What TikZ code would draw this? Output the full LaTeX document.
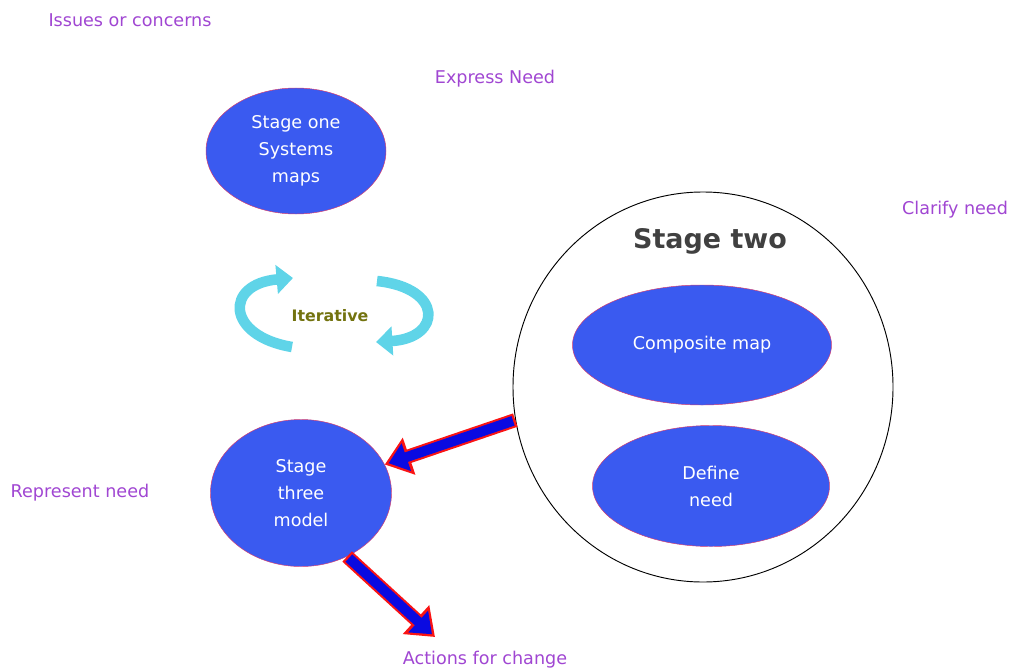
\documentclass[tikz,border=0pt]{standalone}
\usepackage{fontspec}
\setmainfont{DejaVu Sans}
\usetikzlibrary{shapes.geometric, arrows.meta, positioning}
\definecolor{stageblue}{RGB}{58,90,240}
\definecolor{edgepink}{RGB}{214,60,110}
\definecolor{notepurple}{RGB}{160,70,210}
\definecolor{iterolive}{RGB}{115,115,15}
\definecolor{loopcyan}{RGB}{95,212,232}
\definecolor{fatred}{RGB}{250,20,20}
\definecolor{fatblue}{RGB}{10,10,225}
\def\px{0.03cm}
\tikzstyle{every node} = [font=\fontsize{15}{23}\selectfont]
\tikzstyle{stage}   = [ellipse, fill=stageblue, draw=edgepink, text=white, align=center, inner sep=0pt]
\tikzstyle{outer}   = [ellipse, draw=black, thick, inner sep=0pt]
\tikzstyle{note}    = [text=notepurple]
\tikzstyle{fatedge} = [fatred, line width=12pt, -{Triangle[length=22pt,width=32pt]}]
\tikzstyle{fatcore} = [fatblue, line width=8.5pt, -{Triangle[length=16pt,width=24pt]}, shorten >=3.5pt, shorten <=2pt]
\tikzstyle{loop}    = [loopcyan, line width=9pt, -{Triangle[length=14pt,width=24pt]}]

\begin{document}
\begin{tikzpicture}[x=\px, y=-\px]
\useasboundingbox (0,0) rectangle (1012,671);
% Objects
    % Stage one
    \node (one)    [stage, minimum width=5.4cm,  minimum height=3.78cm] at (296,151) {Stage one\\Systems\\maps};
    % Stage two
    \node (stagetwo) [outer, minimum width=11.4cm, minimum height=11.7cm] at (703,387) {};
    \node (comp)   [stage, minimum width=7.77cm, minimum height=3.6cm]  at (702,345) {Composite map};
    \node (define) [stage, minimum width=7.11cm, minimum height=3.63cm] at (711,486) {Define\\need};
    \node (twotxt) [above=0.8cm of comp, xshift=0.24cm, font=\fontsize{23}{27}\selectfont\bfseries, text=black!75] {Stage two};
    % Stage three
    \node (stagethree) [stage, minimum width=5.43cm, minimum height=4.41cm] at (301,493) {Stage\\three\\model};
    % Iterative loop
    \node (iter)   [font=\fontsize{13.5}{16}\selectfont\bfseries, text=iterolive] at (330,316) {Iterative};
    \coordinate (loopLa) at (292,347);
    \coordinate (loopLb) at (293,278);
    \coordinate (loopRa) at (377,281);
    \coordinate (loopRb) at (376,342);
    \coordinate (acthead) at (435,637);

% Labels
    \node (issues)    [note] at (130,20)  {Issues or concerns};
    \node (express)   [note] at (495,79)  {Express Need};
    \node (clarify)   [note] at (955,210) {Clarify need};
    \node (represent) [note] at (80,493)  {Represent need};
    \node (actions)   [note] at (485,660) {Actions for change};

% Arrows
    % Stage two to stage three
    \draw [fatedge] (stagetwo.190) -- (stagethree);
    \draw [fatcore] (stagetwo.190) -- (stagethree);
    % Stage three to change
    \draw [fatedge] (stagethree.-54) -- (acthead);
    \draw [fatcore] (stagethree.-54) -- (acthead);
    % Iterative loop
    \draw [loop] (loopLa) .. controls (226,336) and (224,284) .. (loopLb);
    \draw [loop] (loopRa) .. controls (444,288) and (442,338) .. (loopRb);
\end{tikzpicture}
\end{document}
